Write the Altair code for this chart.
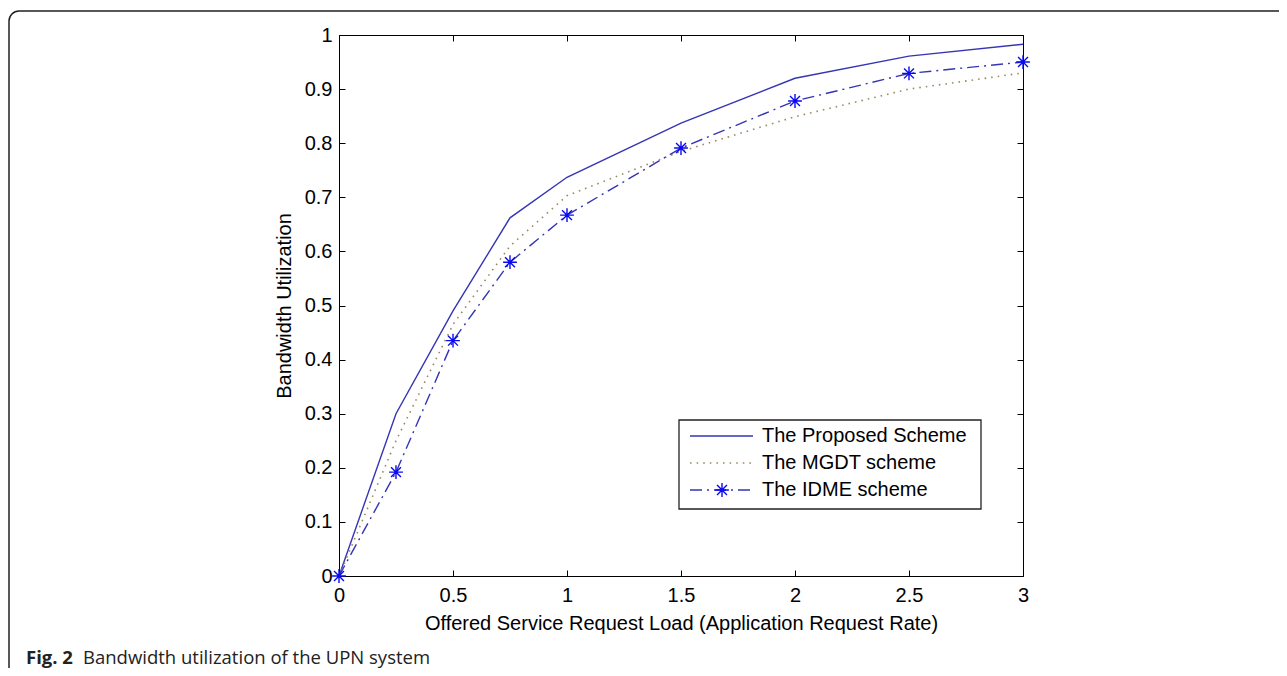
import altair as alt
import pandas as pd

# ---- data ----
X = [0, 0.25, 0.5, 0.75, 1, 1.5, 2, 2.5, 3]
PROPOSED = [0, 0.30, 0.49, 0.662, 0.737, 0.837, 0.920, 0.961, 0.983]
MGDT = [0, 0.25, 0.465, 0.61, 0.703, 0.785, 0.849, 0.900, 0.930]
IDME = [0, 0.192, 0.435, 0.58, 0.667, 0.791, 0.878, 0.929, 0.950]
SERIES = ["The Proposed Scheme", "The MGDT scheme", "The IDME scheme"]
X_TICKS = [0, 0.5, 1, 1.5, 2, 2.5, 3]
Y_TICKS = [0, 0.1, 0.2, 0.3, 0.4, 0.5, 0.6, 0.7, 0.8, 0.9, 1]
X_TITLE = "Offered Service Request Load (Application Request Rate)"
Y_TITLE = "Bandwidth Utilization"
CAPTION_BOLD = "Fig. 2"
CAPTION = "Bandwidth utilization of the UPN system"

rows = []
for name, vals in zip(SERIES, [PROPOSED, MGDT, IDME]):
    for xv, yv in zip(X, vals):
        rows.append({"series": name, "x": xv, "y": yv})
df = pd.DataFrame(rows)
one = pd.DataFrame({"k": [0]})

FONT = "Liberation Sans"
BLUE = "#3535b5"
MARK_BLUE = "#0a0af0"
DOT_COL = "#9a8c62"
ASTERISK = "M-1,0L1,0M0,-1L0,1M-0.72,-0.72L0.72,0.72M-0.72,0.72L0.72,-0.72"

xs = alt.Scale(domain=[0, 3], nice=False, zero=False)
ys = alt.Scale(domain=[0, 1], nice=False, zero=False)

ax_common = dict(offset=-6, tickSize=6, domain=False, grid=False, tickColor="black",
                 tickWidth=1, labelFlush=False, labelOverlap=False)

x_bottom = alt.X("x:Q", scale=xs, axis=alt.Axis(
    values=X_TICKS, format="~g", orient="bottom", labelPadding=9, labelFont=FONT,
    labelFontSize=20, labelColor="black", title=X_TITLE, titleFont=FONT,
    titleFontSize=20, titleFontWeight="normal", titleColor="black", titlePadding=8,
    **ax_common))
y_left = alt.Y("y:Q", scale=ys, axis=alt.Axis(
    values=Y_TICKS, format="~g", orient="left", labelPadding=7, labelFont=FONT,
    labelFontSize=20, labelColor="black", title=Y_TITLE, titleFont=FONT,
    titleFontSize=20, titleFontWeight="normal", titleColor="black", titlePadding=10,
    **ax_common))
x_top = alt.X("x:Q", scale=xs, axis=alt.Axis(values=X_TICKS, orient="top", labels=False,
                                             title=None, **ax_common))
y_right = alt.Y("y:Q", scale=ys, axis=alt.Axis(values=Y_TICKS, orient="right", labels=False,
                                               title=None, **ax_common))
x_plain = alt.X("x:Q", scale=xs, axis=None)
y_plain = alt.Y("y:Q", scale=ys, axis=None)

frame = alt.Chart(one).mark_rect(cornerRadius=10, fillOpacity=0, stroke="#222",
                                 strokeWidth=1.5).encode(
    x=alt.value(-330), x2=alt.value(1000), y=alt.value(-24), y2=alt.value(700))

base = alt.Chart(df)
proposed = base.transform_filter(alt.datum.series == SERIES[0]).mark_line(
    color=BLUE, strokeWidth=1.4).encode(x=x_bottom, y=y_left)
mgdt = base.transform_filter(alt.datum.series == SERIES[1]).mark_line(
    color=DOT_COL, strokeWidth=1.6, strokeDash=[1.6, 5]).encode(x=x_top, y=y_right)
idme = base.transform_filter(alt.datum.series == SERIES[2]).mark_line(
    color=BLUE, strokeWidth=1.4, strokeDash=[12, 5, 2, 5]).encode(x=x_plain, y=y_plain)
idme_pts = base.transform_filter(alt.datum.series == SERIES[2]).mark_point(
    shape=ASTERISK, size=190, filled=False, color=MARK_BLUE, strokeWidth=1.4,
    opacity=1).encode(x=x_plain, y=y_plain)

# legend (decoration)
leg_box = alt.Chart(one).mark_rect(fill="white", stroke="#222", strokeWidth=1.3).encode(
    x=alt.value(340), x2=alt.value(642), y=alt.value(385), y2=alt.value(474))
leg_rows = [401, 428, 455]
leg_l1 = alt.Chart(one).mark_rule(color=BLUE, strokeWidth=1.4).encode(
    x=alt.value(351), x2=alt.value(414), y=alt.value(leg_rows[0]))
leg_l2 = alt.Chart(one).mark_rule(color=DOT_COL, strokeWidth=1.6, strokeDash=[1.6, 5]).encode(
    x=alt.value(351), x2=alt.value(414), y=alt.value(leg_rows[1]))
leg_l3 = alt.Chart(one).mark_rule(color=BLUE, strokeWidth=1.4, strokeDash=[12, 5, 2, 5]).encode(
    x=alt.value(351), x2=alt.value(414), y=alt.value(leg_rows[2]))
leg_pt = alt.Chart(one).mark_point(shape=ASTERISK, size=190, filled=False, color=MARK_BLUE,
                                   strokeWidth=1.4, opacity=1).encode(
    x=alt.value(383), y=alt.value(leg_rows[2]))
leg_texts = [alt.Chart(one).mark_text(align="left", baseline="middle", font=FONT, fontSize=20,
                                      color="black").encode(
    x=alt.value(423), y=alt.value(r), text=alt.value(s)) for s, r in zip(SERIES, leg_rows)]

cap_b = alt.Chart(one).mark_text(align="left", baseline="alphabetic", font="Open Sans",
                                 fontSize=18.5, fontWeight="bold", color="#222").encode(
    x=alt.value(-313), y=alt.value(629), text=alt.value(CAPTION_BOLD))
cap = alt.Chart(one).mark_text(align="left", baseline="alphabetic", font="Open Sans",
                               fontSize=18.5, color="#222").encode(
    x=alt.value(-256), y=alt.value(629), text=alt.value(CAPTION))

chart = alt.layer(
    frame, proposed, mgdt, idme, idme_pts, leg_box, leg_l1, leg_l2, leg_l3, leg_pt,
    *leg_texts, cap_b, cap
).resolve_axis(x="independent", y="independent").properties(
    width=684, height=541,
    autosize=alt.AutoSizeParams(type="none"),
    padding={"left": 331, "top": 27, "right": 256, "bottom": 92},
    background="white",
).configure_view(stroke="black", strokeWidth=1)

chart.save("out.html", embed_options={"renderer": "svg", "actions": False})
